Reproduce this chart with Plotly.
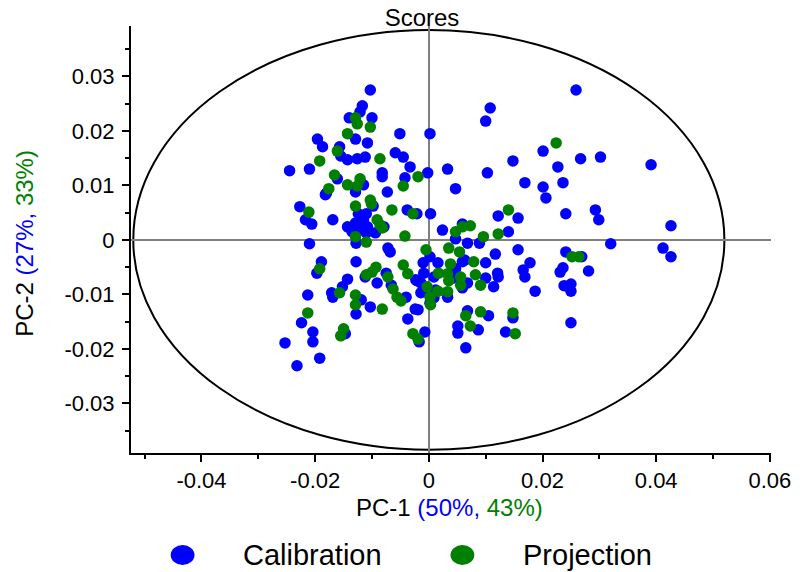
import plotly.graph_objects as go

# ---------------- data ----------------
series_names = ["Calibration", "Projection"]

cal_x = [
    -0.0103, -0.0117, -0.0121, -0.0140, -0.0100, -0.0129, -0.0108, -0.0051, 0.0002, -0.0196,
    -0.0187, -0.0157, -0.0155, -0.0143, -0.0126, -0.0112, -0.0059, -0.0045, -0.0245, -0.0210,
    -0.0033, -0.0082, -0.0082, -0.0002, -0.0042, -0.0161, -0.0115, -0.0129, -0.0073, -0.0182,
    0.0259, 0.0108, 0.0100, 0.0201, 0.0148, 0.0267, 0.0302, 0.0391, 0.0033, 0.0103,
    0.0227, 0.0047, 0.0169, 0.0201, 0.0236, 0.0206, 0.0003, 0.0122, 0.0157, 0.0241,
    0.0293, 0.0299, 0.0426, 0.0024, 0.0059, 0.0140, 0.0047, 0.0320, 0.0412, 0.0426,
    0.0241, 0.0269, 0.0236, 0.0231, 0.0281, 0.0238, 0.0250, 0.0068, 0.0089, 0.0117,
    0.0157, -0.0010, 0.0016, 0.0059, 0.0100, 0.0178, 0.0047, 0.0166, 0.0169, 0.0121,
    0.0122, -0.0009, 0.0009, 0.0100, 0.0114, 0.0068, -0.0014, 0.0059, 0.0187, 0.0250,
    -0.0014, 0.0009, 0.0033, -0.0019, 0.0068, 0.0105, 0.0148, 0.0051, 0.0087, 0.0250,
    0.0135, 0.0051, -0.0007, -0.0017, 0.0065, -0.0180, -0.0227, -0.0217, -0.0206, -0.0169,
    -0.0098, -0.0124, -0.0110, -0.0115, -0.0129, -0.0143, -0.0135, -0.0108, -0.0094, -0.0079,
    -0.0128, -0.0210, -0.0038, -0.0021, -0.0068, -0.0128, -0.0189, -0.0197, -0.0112, -0.0075,
    -0.0021, -0.0143, -0.0091, -0.0152, -0.0171, -0.0169, -0.0213, -0.0066, -0.0040, -0.0119,
    -0.0103, -0.0128, -0.0024, -0.0037, -0.0224, -0.0204, -0.0147, -0.0253, -0.0204, 0.0002,
    -0.0010, -0.0192, -0.0232, 0.0063, 0.0002, 0.0042, -0.0023, 0.0012, -0.0124, -0.0110,
    -0.0129, -0.0072,
]
cal_y = [
    0.0275, 0.0246, 0.0235, 0.0224, 0.0224, 0.0185, 0.0178, 0.0195, 0.0195, 0.0185,
    0.0171, 0.0171, 0.0154, 0.0147, 0.0149, 0.0152, 0.0160, 0.0152, 0.0127, 0.0130,
    0.0134, 0.0123, 0.0116, 0.0123, 0.0114, 0.0112, 0.0101, 0.0088, 0.0088, 0.0083,
    0.0275, 0.0242, 0.0218, 0.0163, 0.0145, 0.0149, 0.0152, 0.0138, 0.0130, 0.0123,
    0.0134, 0.0094, 0.0105, 0.0097, 0.0105, 0.0077, 0.0048, 0.0044, 0.0040, 0.0048,
    0.0055, 0.0037, 0.0026, 0.0018, 0.0029, 0.0015, 0.0002, -0.0007, -0.0015, -0.0031,
    -0.0022, -0.0031, -0.0051, -0.0059, -0.0057, -0.0084, -0.0081, -0.0006, -0.0006, -0.0026,
    -0.0018, -0.0042, -0.0042, -0.0040, -0.0042, -0.0042, -0.0053, -0.0055, -0.0068, -0.0061,
    -0.0068, -0.0061, -0.0068, -0.0070, -0.0086, -0.0079, -0.0079, -0.0088, -0.0094, -0.0094,
    -0.0097, -0.0106, -0.0105, -0.0128, -0.0130, -0.0139, -0.0143, -0.0158, -0.0165, -0.0152,
    -0.0169, -0.0171, -0.0169, -0.0187, -0.0198, 0.0086, 0.0061, 0.0037, 0.0029, 0.0037,
    0.0062, 0.0048, 0.0048, 0.0037, 0.0031, 0.0024, 0.0015, 0.0024, 0.0013, 0.0024,
    -0.0006, -0.0007, 0.0055, 0.0048, -0.0022, -0.0040, -0.0040, -0.0061, -0.0068, -0.0061,
    -0.0075, -0.0072, -0.0079, -0.0086, -0.0097, -0.0105, -0.0101, -0.0083, -0.0105, -0.0110,
    -0.0123, -0.0136, -0.0127, -0.0145, -0.0152, -0.0169, -0.0172, -0.0189, -0.0187, -0.0116,
    -0.0092, -0.0217, -0.0231, -0.0037, -0.0031, -0.0070, -0.0073, -0.0092, 0.0022, 0.0013,
    0.0009, -0.0015,
]

proj_x = [
    -0.0129, -0.0126, -0.0103, -0.0143, -0.0161, -0.0086, -0.0192, -0.0019, -0.0045, -0.0166,
    -0.0121, -0.0143, -0.0126, -0.0176, -0.0103, 0.0224, 0.0140, 0.0073, 0.0059, 0.0047,
    0.0122, 0.0096, 0.0252, 0.0264, -0.0005, 0.0035, 0.0054, 0.0038, 0.0079, 0.0017,
    0.0033, 0.0082, 0.0035, 0.0056, 0.0091, -0.0003, 0.0016, 0.0033, 0.0002, 0.0003,
    0.0091, 0.0065, 0.0148, 0.0073, 0.0152, -0.0019, -0.0042, -0.0045, 0.0056, -0.0211,
    -0.0129, -0.0101, -0.0091, -0.0086, -0.0082, -0.0129, -0.0110, -0.0065, -0.0028, -0.0192,
    -0.0093, -0.0100, -0.0110, -0.0072, -0.0037, -0.0157, -0.0063, -0.0056, -0.0049, -0.0129,
    -0.0129, -0.0082, -0.0213, -0.0150, -0.0155, -0.0028,
]
proj_y = [
    0.0224, 0.0213, 0.0207, 0.0195, 0.0163, 0.0149, 0.0145, 0.0116, 0.0099, 0.0119,
    0.0112, 0.0101, 0.0099, 0.0094, 0.0073, 0.0178, 0.0055, 0.0026, 0.0024, 0.0015,
    0.0011, 0.0006, -0.0031, -0.0031, -0.0018, -0.0015, -0.0022, -0.0044, -0.0040, -0.0061,
    -0.0062, -0.0064, -0.0075, -0.0083, -0.0083, -0.0086, -0.0094, -0.0095, -0.0105, -0.0119,
    -0.0132, -0.0139, -0.0134, -0.0158, -0.0172, -0.0182, 0.0007, -0.0046, -0.0068, 0.0051,
    0.0062, 0.0066, 0.0037, 0.0028, 0.0022, 0.0006, -0.0004, 0.0055, 0.0048, -0.0053,
    -0.0050, -0.0059, -0.0064, -0.0068, -0.0062, -0.0097, -0.0090, -0.0105, -0.0112, -0.0101,
    -0.0119, -0.0127, -0.0134, -0.0163, -0.0176, -0.0172,
]

x_tickvals = [-0.04, -0.02, 0, 0.02, 0.04, 0.06]
x_ticktext = ["-0.04", "-0.02", "0", "0.02", "0.04", "0.06"]
x_minor = [-0.05, -0.03, -0.01, 0.01, 0.03, 0.05]
y_tickvals = [-0.03, -0.02, -0.01, 0, 0.01, 0.02, 0.03]
y_ticktext = ["-0.03", "-0.02", "-0.01", "0", "0.01", "0.02", "0.03"]
y_minor = [-0.035, -0.025, -0.015, -0.005, 0.005, 0.015, 0.025, 0.035]

x_title_parts = ["PC-1 ", "(50%,", " 43%)"]
y_title_parts = ["PC-2 ", "(27%,", " 33%)"]
ellipse_a, ellipse_b = 0.052, 0.0385   # Hotelling T2 ellipse half-axes

# ---------------- layout constants ----------------
W, H = 803, 572
L, R, T, B = 131, 27, 26, 119
PW, PH = W - L - R, H - T - B
FONT = "Liberation Sans, Arial, Helvetica, sans-serif"
BLUE, GREEN, GREY = "#0000FF", "#008000", "#808080"


def px(xp):
    return (xp - L) / PW


def py(yp):
    return (H - B - yp) / PH


fig = go.Figure()
fig.add_trace(go.Scatter(x=cal_x, y=cal_y, mode="markers", name=series_names[0],
                         marker=dict(size=11.5, color=BLUE, line=dict(width=0)),
                         showlegend=False))
fig.add_trace(go.Scatter(x=proj_x, y=proj_y, mode="markers", name=series_names[1],
                         marker=dict(size=11.5, color=GREEN, line=dict(width=0)),
                         showlegend=False))

# confidence ellipse
fig.add_shape(type="circle", xref="x", yref="y",
              x0=-ellipse_a, x1=ellipse_a, y0=-ellipse_b, y1=ellipse_b,
              line=dict(color="black", width=2), layer="below")

# custom legend (large markers like the reference)
legend_items = [(series_names[0], BLUE, 183, 242), (series_names[1], GREEN, 465, 524)]
for name, col, cx, tx in legend_items:
    fig.add_shape(type="circle", xref="paper", yref="paper",
                  x0=px(cx - 12), x1=px(cx + 12), y0=py(565), y1=py(545),
                  fillcolor=col, line=dict(width=0))
    fig.add_annotation(text=name, xref="paper", yref="paper", x=px(tx), y=py(555),
                       xanchor="left", yanchor="middle", showarrow=False,
                       font=dict(family=FONT, size=29, color="black"))

# axis titles with coloured parts
x_title = (f"{x_title_parts[0]}<span style='color:{BLUE}'>{x_title_parts[1]}</span>"
           f"<span style='color:{GREEN}'>{x_title_parts[2]}</span>")
y_title = (f"{y_title_parts[0]}<span style='color:{BLUE}'>{y_title_parts[1]}</span>"
           f"<span style='color:{GREEN}'>{y_title_parts[2]}</span>")
fig.add_annotation(text=x_title, xref="paper", yref="paper", x=px(452), y=py(508),
                   xanchor="center", yanchor="middle", showarrow=False,
                   font=dict(family=FONT, size=24, color="black"))
fig.add_annotation(text=y_title, xref="paper", yref="paper", x=px(23), y=py(243),
                   xanchor="center", yanchor="middle", showarrow=False, textangle=-90,
                   font=dict(family=FONT, size=24, color="black"))

axis_common = dict(
    showgrid=False, showline=True, linecolor="black", linewidth=2,
    ticks="outside", ticklen=7, tickwidth=2, tickcolor="black",
    zeroline=True, zerolinecolor=GREY, zerolinewidth=2,
    tickfont=dict(family=FONT, size=22, color="black"),
    tickmode="array", mirror=False,
)

fig.update_layout(
    width=W, height=H,
    margin=dict(l=L, r=R, t=T, b=B, pad=0),
    paper_bgcolor="white", plot_bgcolor="white",
    title=dict(text="Scores", x=422 / W, xref="container", xanchor="center",
               y=1 - 18 / H, yref="container", yanchor="middle",
               font=dict(family=FONT, size=24, color="black")),
    xaxis=dict(range=[-0.0524, 0.0602], tickvals=x_tickvals, ticktext=x_ticktext,
               minor=dict(tickmode="array", tickvals=x_minor, ticks="outside",
                          ticklen=4, tickwidth=2, tickcolor="black", showgrid=False),
               **axis_common),
    yaxis=dict(range=[-0.0391, 0.03925], tickvals=y_tickvals, ticktext=y_ticktext,
               ticklabelstandoff=3,
               minor=dict(tickmode="array", tickvals=y_minor, ticks="outside",
                          ticklen=4, tickwidth=2, tickcolor="black", showgrid=False),
               **axis_common),
    showlegend=False,
)

fig.write_html("out.html")
